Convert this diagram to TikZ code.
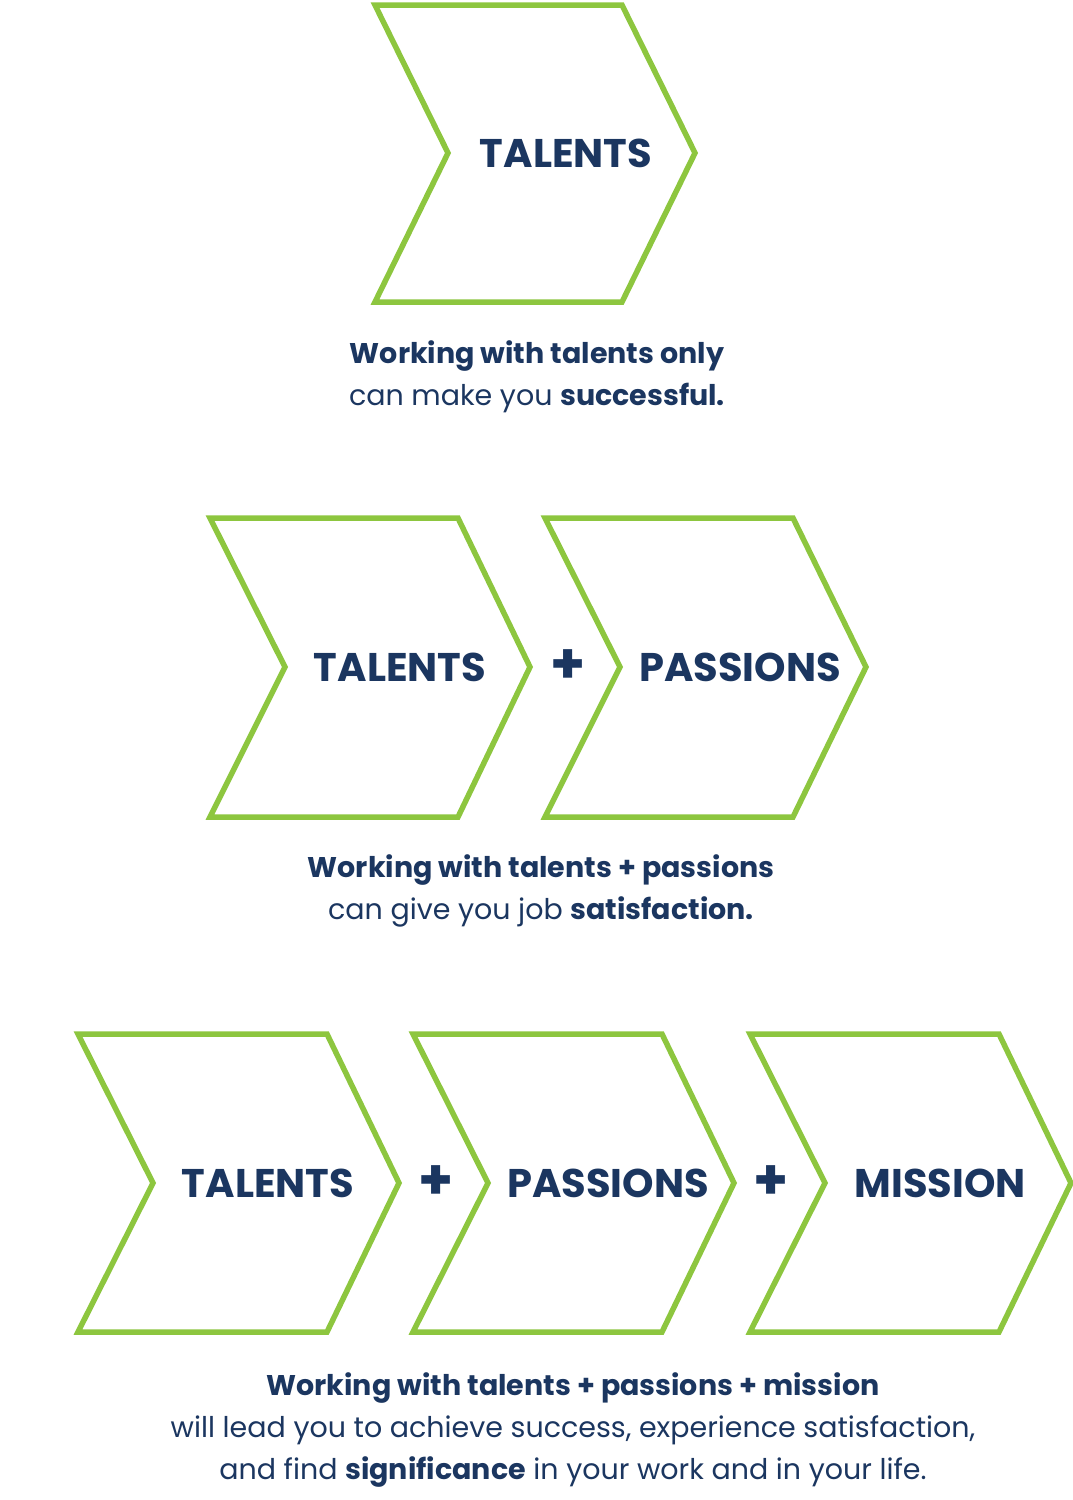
\documentclass[tikz,border=0pt]{standalone}
\usepackage{fontspec}
\setmainfont{Poppins}
\definecolor{grn}{HTML}{8DC63F}
\definecolor{navy}{HTML}{1B3660}
\tikzset{
  chev/.style={draw=grn,line width=5.5pt,line join=miter,fill=white},
  lab/.style={text=navy,font=\fontsize{40}{44}\selectfont\bfseries},
  plus/.style={text=navy,font=\fontsize{56}{60}\selectfont\bfseries},
  captext/.style={text=navy,align=center,font=\fontsize{28.5}{42}\selectfont},
}
\begin{document}
\begin{tikzpicture}[x=1pt,y=-1pt]
\useasboundingbox (0,0) rectangle (1073,1500);
\draw[chev] (375,5) -- (622,5) -- (695,153) -- (622,302) -- (375,302) -- (448,153) -- cycle;
\node[lab] (t1) at (566,153) {TALENTS};
\node[captext] (c1) at (537,377) {\textbf{Working with talents only}\\can make you \textbf{successful.}};
% row 2
\draw[chev] (210,518) -- (458,518) -- (530,667) -- (458,817) -- (210,817) -- (285,667) -- cycle;
\draw[chev] (545,518) -- (793,518) -- (866,667) -- (793,817) -- (545,817) -- (620,667) -- cycle;
\node[lab] (t2) at (400,667) {TALENTS};
\node[lab] (p2) at (740,667) {PASSIONS};
\node[plus] (pl2) at (568,667) {+};
\node[captext] (c2) at (541,891) {\textbf{Working with talents + passions}\\can give you job \textbf{satisfaction.}};
% row 3
\foreach \x in {78,413,750}{
\draw[chev] (\x,1034) -- (\x+249,1034) -- (\x+321,1183) -- (\x+249,1332) -- (\x,1332) -- (\x+75,1183) -- cycle;}
\node[lab] (t3) at (268,1183) {TALENTS};
\node[lab] (p3) at (608,1183) {PASSIONS};
\node[lab] (m3) at (940,1183) {MISSION};
\node[plus] (pl3a) at (436,1183) {+};
\node[plus] (pl3b) at (771,1183) {+};
\node[captext] (c3) at (573,1430) {\textbf{Working with talents + passions + mission}\\will lead you to achieve success, experience satisfaction,\\and find \textbf{significance} in your work and in your life.};
\end{tikzpicture}
\end{document}
